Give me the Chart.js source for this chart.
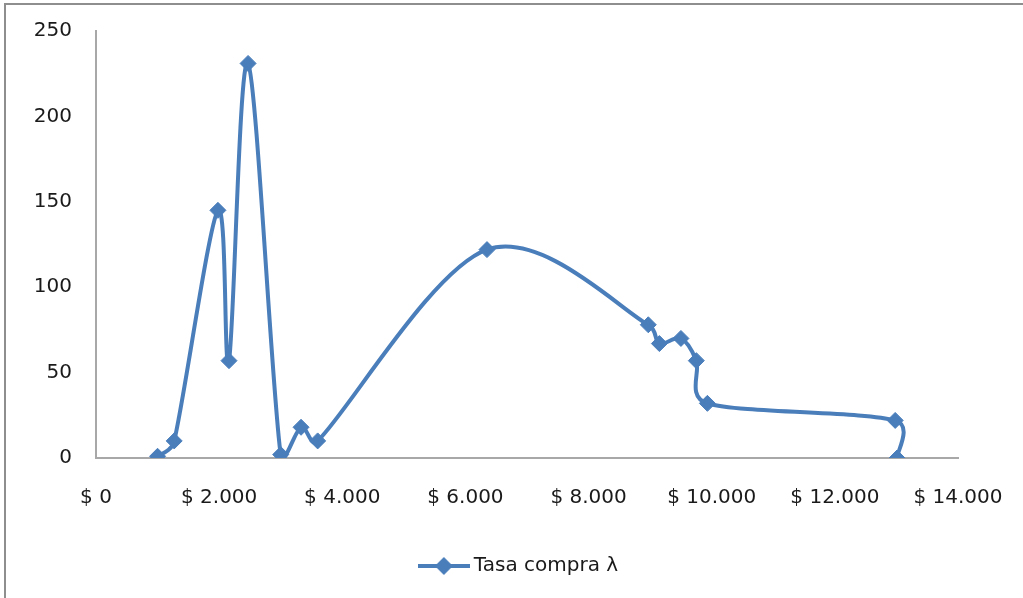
<!DOCTYPE html>
<html>
<head>
<meta charset="utf-8">
<script src="https://cdn.jsdelivr.net/npm/chart.js@4/dist/chart.umd.min.js"></script>
<style>
  html, body { margin: 0; padding: 0; background: #ffffff; overflow: hidden; }
  #wrap { position: relative; width: 1023px; height: 598px; }
  #frame { position: absolute; left: 4px; top: 3px; width: 2000px; height: 2000px;
           border-left: 2px solid #8e8e8e; border-top: 2px solid #8e8e8e; pointer-events: none; }
  canvas { position: absolute; left: 0; top: 0; }
</style>
</head>
<body>
<div id="wrap">
  <canvas id="chart" width="1023" height="598"></canvas>
  <div id="frame"></div>
</div>
<script>
// Precio (x) y tasa de compra λ (y)
const precios = [1000, 1270, 1980, 2160, 2470, 3000, 3330, 3600, 6350, 8970, 9150, 9500, 9750, 9930, 12980, 13010];
const tasaCompra = [1, 10, 145, 57, 231, 2, 18, 10, 122, 78, 67, 70, 57, 32, 22, 0];
const xTickLabels = ['$ 0', '$ 2.000', '$ 4.000', '$ 6.000', '$ 8.000', '$ 10.000', '$ 12.000', '$ 14.000'];
const yTickLabels = ['0', '50', '100', '150', '200', '250'];
const serieNombre = 'Tasa compra \u03BB';

const azul = '#4a7ebb';
const fuente = "'DejaVu Sans', sans-serif";

// Legend symbol: short line with a diamond in the middle
function legendSymbol() {
  const c = document.createElement('canvas');
  c.width = 52; c.height = 20;
  const g = c.getContext('2d');
  g.strokeStyle = azul; g.lineWidth = 4;
  g.beginPath(); g.moveTo(0, 10); g.lineTo(52, 10); g.stroke();
  g.fillStyle = azul;
  g.beginPath(); g.moveTo(26, 1); g.lineTo(35, 10); g.lineTo(26, 19); g.lineTo(17, 10); g.closePath(); g.fill();
  return c;
}

// Spreadsheet-style smoothing: tangent = (next - prev) / 6,
// each arm limited to half the length of its own segment.
const smoothLine = {
  id: 'smoothLine',
  beforeDatasetDraw(chart, args) {
    const line = args.meta.dataset;
    line.updateControlPoints(chart.chartArea, 'x');
    const pts = args.meta.data;
    const n = pts.length;
    for (let i = 0; i < n; i++) {
      const p = pts[i];
      const prev = pts[Math.max(i - 1, 0)];
      const next = pts[Math.min(i + 1, n - 1)];
      const tx = (next.x - prev.x) / 6;
      const ty = (next.y - prev.y) / 6;
      const len = Math.hypot(tx, ty) || 1;
      const dPrev = Math.hypot(p.x - prev.x, p.y - prev.y);
      const dNext = Math.hypot(next.x - p.x, next.y - p.y);
      const sPrev = Math.min(1, (dPrev / 2) / len);
      const sNext = Math.min(1, (dNext / 2) / len);
      p.cp1x = p.x - tx * sPrev; p.cp1y = p.y - ty * sPrev;
      p.cp2x = p.x + tx * sNext; p.cp2y = p.y + ty * sNext;
    }
    line._path = undefined;
  }
};

// Keep the legend centred a little to the right, under the plot
const legendShift = {
  id: 'legendShift',
  afterLayout(chart) {
    const lg = chart.legend;
    if (lg) { lg.left += 42; lg.right += 42; }
  }
};

const puntos = precios.map((p, i) => ({ x: p, y: tasaCompra[i] }));

new Chart(document.getElementById('chart'), {
  type: 'line',
  data: {
    datasets: [{
      label: serieNombre,
      data: puntos,
      borderColor: azul,
      backgroundColor: azul,
      borderWidth: 4,
      tension: 0.3,
      capBezierPoints: false,
      fill: false,
      pointStyle: 'rectRot',
      pointRadius: 8,
      pointBorderWidth: 1,
      pointBorderColor: azul,
      pointBackgroundColor: azul,
      pointHoverRadius: 8
    }]
  },
  plugins: [smoothLine, legendShift],
  options: {
    responsive: false,
    animation: false,
    events: [],
    layout: { padding: { left: 0, right: 65, top: 31, bottom: 12 } },
    scales: {
      x: {
        type: 'linear',
        min: 0, max: 14000,
        grid: { display: false, drawTicks: false },
        border: { display: true, color: '#a8a8a8', width: 2 },
        afterFit: s => { s.height = 88; s.paddingLeft = 0; s.paddingRight = 0; },
        afterBuildTicks: s => {
          s.ticks = xTickLabels.map((_, i) => ({ value: i * 2000 }));
        },
        ticks: {
          padding: 28,
          color: '#1a1a1a',
          font: { family: fuente, size: 20 },
          maxRotation: 0,
          autoSkip: false,
          callback: (v, i) => xTickLabels[i]
        }
      },
      y: {
        min: 0, max: 250,
        grid: { display: false, drawTicks: false },
        border: { display: true, color: '#a8a8a8', width: 2 },
        afterFit: s => { s.width = 96; s.paddingTop = 0; s.paddingBottom = 0; },
        afterBuildTicks: s => {
          s.ticks = yTickLabels.map((_, i) => ({ value: i * 50 }));
        },
        ticks: {
          padding: 24,
          color: '#1a1a1a',
          font: { family: fuente, size: 20 },
          autoSkip: false,
          callback: (v, i) => yTickLabels[i]
        }
      }
    },
    plugins: {
      tooltip: { enabled: false },
      legend: {
        position: 'bottom',
        labels: {
          usePointStyle: true,
          pointStyle: legendSymbol(),
          pointStyleWidth: 40,
          boxHeight: 20,
          padding: 10,
          color: '#1a1a1a',
          font: { family: fuente, size: 20 }
        }
      }
    }
  }
});
</script>
</body>
</html>
